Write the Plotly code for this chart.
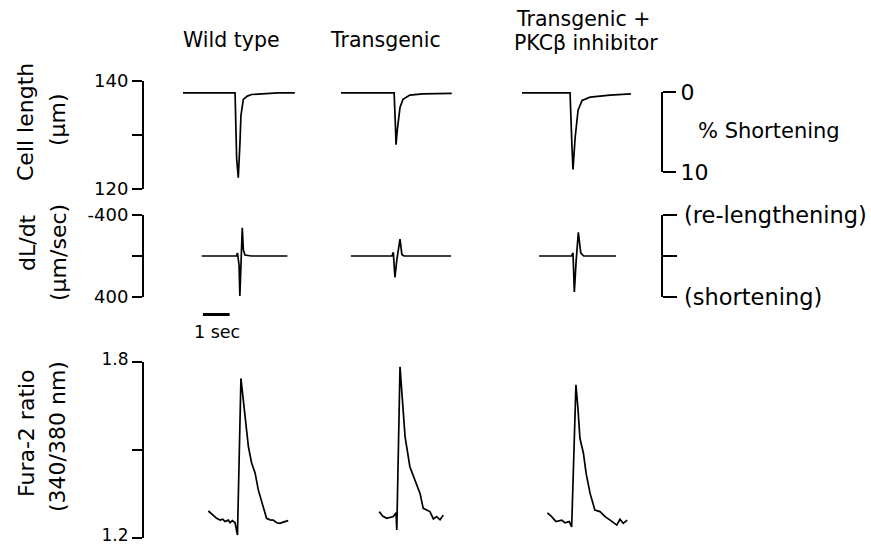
import plotly.graph_objects as go

W, H = 871, 545
PX_PER_SEC = 26.7

# ---------------- data ----------------
column_titles = ["Wild type", "Transgenic", "Transgenic +", "PKCβ inhibitor"]

# Cell length (µm), time in s relative to stimulus
len_wt_t = [-2.06, -1.5, -1.0, -0.5, -0.11, -0.05, 0.01, 0.075, 0.11, 0.20, 0.35, 0.51, 1.0, 1.5, 2.13]
len_wt_v = [137.8, 137.8, 137.7, 137.8, 137.8, 125.6, 122.1, 128.7, 133.6, 136.6, 137.2, 137.5, 137.7, 137.8, 137.8]
len_tg_t = [-2.06, -1.0, -0.07, -0.02, 0.0, 0.05, 0.15, 0.26, 0.52, 1.0, 2.09]
len_tg_v = [137.8, 137.8, 137.8, 131.5, 128.2, 131.0, 135.1, 136.6, 137.4, 137.6, 137.7]
len_inh_t = [-1.91, -1.0, -0.11, -0.04, 0.0, 0.08, 0.19, 0.34, 0.64, 1.39, 2.17]
len_inh_v = [137.8, 137.8, 137.8, 128.0, 123.6, 129.5, 134.6, 136.4, 137.0, 137.4, 137.6]

# dL/dt (µm/sec)
vel_wt_t = [-1.36, -0.5, -0.06, -0.02, 0.04, 0.07, 0.11, 0.16, 0.20, 0.26, 0.5, 1.85]
vel_wt_v = [0, 0, 0, -30, 90, 390, 60, -275, -60, -10, 0, 0]
vel_tg_t = [-1.69, -0.5, -0.15, -0.10, -0.04, 0.03, 0.08, 0.15, 0.22, 0.30, 1.0, 2.06]
vel_tg_v = [0, 0, 0, -35, 210, 40, -60, -165, -15, 0, 0, 0]
vel_inh_t = [-1.27, -0.5, -0.06, 0.0, 0.05, 0.12, 0.20, 0.29, 0.40, 1.61]
vel_inh_v = [0, 0, 0, -30, 350, 40, -230, -30, 0, 0]

# Fura-2 ratio (340/380 nm)
fura_wt_t = [-1.11, -0.92, -0.80, -0.67, -0.57, -0.49, -0.36, -0.30, -0.21, -0.11, -0.02, 0.11, 0.18, 0.26,
             0.39, 0.51, 0.64, 0.76, 0.95, 1.07, 1.20, 1.32, 1.45, 1.57, 1.72, 1.88]
fura_wt_v = [1.292, 1.278, 1.267, 1.261, 1.264, 1.256, 1.261, 1.252, 1.259, 1.252, 1.210, 1.744, 1.682, 1.602,
             1.511, 1.456, 1.422, 1.364, 1.301, 1.267, 1.262, 1.261, 1.252, 1.250, 1.255, 1.259]
fura_tg_t = [-0.63, -0.50, -0.35, -0.20, -0.10, 0.0, 0.03, 0.15, 0.27, 0.34, 0.52, 0.71, 0.90, 1.02,
             1.15, 1.27, 1.40, 1.52, 1.65, 1.77]
fura_tg_v = [1.290, 1.275, 1.267, 1.270, 1.273, 1.286, 1.227, 1.784, 1.648, 1.545, 1.443, 1.398, 1.352, 1.301,
             1.295, 1.290, 1.265, 1.273, 1.262, 1.278]
fura_inh_t = [-0.96, -0.80, -0.64, -0.42, -0.30, -0.14, -0.05, 0.11, 0.18, 0.26, 0.39, 0.49, 0.64, 0.82,
              1.01, 1.20, 1.39, 1.64, 1.76, 1.88, 2.03]
fura_inh_v = [1.286, 1.273, 1.256, 1.261, 1.252, 1.256, 1.238, 1.722, 1.648, 1.540, 1.489, 1.421, 1.352, 1.295,
              1.290, 1.273, 1.261, 1.244, 1.264, 1.250, 1.261]

len_ticks = [120, 130, 140]
len_ticktext = ["120", "", "140"]
vel_ticks = [-400, 0, 400]
vel_ticktext = ["-400", "", "400"]
fura_ticks = [1.2, 1.5, 1.8]
fura_ticktext = ["1.2", "", "1.8"]
pct_ticks = [0, 10]
pct_ticktext = ["0", "10"]

# ---------------- layout helpers ----------------
FONT = "DejaVu Sans"
def px_x(p):
    return p / W
def px_y(p):
    return 1 - p / H

# stimulus position of each column, in seconds along the shared time axis
col_offset = [238 / PX_PER_SEC, 396 / PX_PER_SEC, 573 / PX_PER_SEC]

fig = go.Figure()
line = dict(color="black", width=1.7)

rows = [
    ("y", [(len_wt_t, len_wt_v), (len_tg_t, len_tg_v), (len_inh_t, len_inh_v)]),
    ("y2", [(vel_wt_t, vel_wt_v), (vel_tg_t, vel_tg_v), (vel_inh_t, vel_inh_v)]),
    ("y3", [(fura_wt_t, fura_wt_v), (fura_tg_t, fura_tg_v), (fura_inh_t, fura_inh_v)]),
]
for yax, series in rows:
    for ci, (t, v) in enumerate(series):
        fig.add_trace(go.Scatter(x=[ti + col_offset[ci] for ti in t], y=v, mode="lines",
                                 line=line, xaxis="x", yaxis=yax, hoverinfo="skip", showlegend=False))

# empty traces that hold the right-hand scale axes
fig.add_trace(go.Scatter(x=[None], y=[None], xaxis="x", yaxis="y4", showlegend=False, hoverinfo="skip"))
fig.add_trace(go.Scatter(x=[None], y=[None], xaxis="x", yaxis="y5", showlegend=False, hoverinfo="skip"))

axis_common = dict(showgrid=False, zeroline=False, showline=True, linecolor="black", linewidth=2,
                   ticks="outside", tickcolor="black", tickwidth=2, anchor="free", fixedrange=True,
                   automargin=False, ticklabeloverflow="allow")
left_pos = px_x(143)
right_pos = px_x(662)

fig.update_layout(
    width=W, height=H,
    margin=dict(l=0, r=0, t=0, b=0),
    paper_bgcolor="white", plot_bgcolor="rgba(0,0,0,0)",
    showlegend=False,
    font=dict(family=FONT, color="black"),
    xaxis=dict(domain=[0, 1], range=[0, W / PX_PER_SEC], visible=False, fixedrange=True),
    yaxis=dict(domain=[px_y(189), px_y(81)], range=[120, 140], position=left_pos, ticklen=10,
               tickvals=len_ticks, ticktext=len_ticktext, tickfont=dict(size=18), **axis_common),
    yaxis2=dict(domain=[px_y(297), px_y(215)], range=[400, -400], position=left_pos, ticklen=10,
                tickvals=vel_ticks, ticktext=vel_ticktext, tickfont=dict(size=18), **axis_common),
    yaxis3=dict(domain=[px_y(538), px_y(362)], range=[1.2, 1.8], position=left_pos, ticklen=10,
                tickvals=fura_ticks, ticktext=fura_ticktext, tickfont=dict(size=17),
                ticklabelshift=-3, **axis_common),
    yaxis4=dict(domain=[px_y(172), px_y(92)], range=[10, 0], side="right", position=right_pos, ticklen=13,
                tickvals=pct_ticks, ticktext=pct_ticktext, tickfont=dict(size=22), **axis_common),
    yaxis5=dict(overlaying="y2", range=[400, -400], side="right", position=right_pos, ticklen=14,
                tickvals=vel_ticks, showticklabels=False, **axis_common),
)

# 1 sec scale bar (data x, seconds)
bar_start = 7.6
fig.add_shape(type="line", xref="x", yref="paper", x0=bar_start, x1=bar_start + 1,
              y0=px_y(314.5), y1=px_y(314.5), line=dict(color="black", width=3))

def ann(text, x, y, size=20, xanchor="center", angle=0):
    fig.add_annotation(text=text, x=px_x(x), y=px_y(y), xref="paper", yref="paper",
                       xanchor=xanchor, yanchor="middle", showarrow=False, textangle=angle,
                       font=dict(family=FONT, size=size, color="black"))

ann(column_titles[0], 231, 40, size=20.5)
ann(column_titles[1], 385, 40, size=20.5)
ann(column_titles[2], 583, 19, size=20.5)
ann(column_titles[3], 586, 43, size=20.5)

ann("Cell length", 25, 122, size=22, angle=-90)
ann("(μm)", 57, 120, size=22, angle=-90)
ann("dL/dt", 27, 243, size=22, angle=-90)
ann("(μm/sec)", 59, 253, size=22, angle=-90)
ann("Fura-2 ratio", 26, 433, size=22, angle=-90)
ann("(340/380 nm)", 57, 437, size=22, angle=-90)

ann("% Shortening", 696, 131, size=21, xanchor="left")
ann("(re-lengthening)", 682, 215, size=22.5, xanchor="left")
ann("(shortening)", 682, 297, size=22.5, xanchor="left")
ann("1 sec", 217, 332, size=17.5)

fig.write_html("out.html", config={"displayModeBar": False, "staticPlot": True})
